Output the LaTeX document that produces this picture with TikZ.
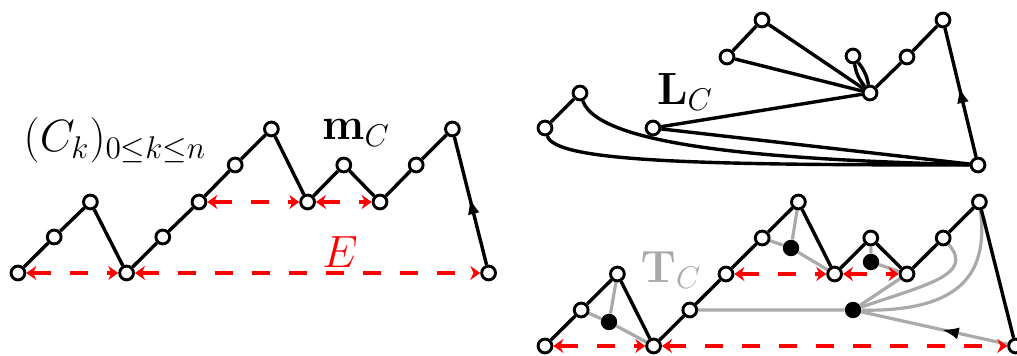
\documentclass[tikz,border=0pt]{standalone}
\usetikzlibrary{arrows.meta,decorations.markings}
\pgfdeclarelayer{bg}
\pgfsetlayers{bg,main}
\definecolor{lgray}{RGB}{170,170,170}
\tikzset{
  vtx/.style={circle,draw=black,fill=white,line width=1.45pt,minimum size=6.9pt,inner sep=0pt},
  fdot/.style={circle,fill=black,minimum size=8.2pt,inner sep=0pt},
  blk/.style={black,line width=1.7pt},
  gry/.style={lgray,line width=1.6pt},
  redarr/.style={red,line width=1.7pt,dash pattern=on 9pt off 9.5pt,
     {Stealth[length=5pt,width=7pt]}-{Stealth[length=5pt,width=7pt]}},
  midarrow/.style={postaction={decorate},decoration={markings,
     mark=at position #1 with {\arrow[black]{Latex[length=8.5pt,width=6pt]}}}},
  lbl/.style={font=\huge,inner sep=0pt,scale=1.09,transform shape}
}
\begin{document}
\begin{tikzpicture}[x=0.5pt,y=-0.5pt]
\useasboundingbox (0,0) rectangle (1017,356);
% left path
\foreach \i/\x/\y in {0/18/273,1/54.2/237,2/90.4/202,3/126.6/273,4/162.8/237,5/199/202,6/235.2/165,7/271.4/129,8/307.6/202,9/343.8/165,10/380/202,11/416.2/165,12/452.4/129,13/488.6/273}
  \node[vtx] (a\i) at (\x,\y) {};
% bottom-right path
\foreach \i/\x/\y in {0/545/346,1/581.2/310,2/617.4/274,3/653.6/346,4/689.8/310,5/726/274,6/762.2/238,7/798.4/202,8/834.6/274,9/870.8/238,10/907/274,11/943.2/238,12/979.4/202,13/1015.6/346}
  \node[vtx] (b\i) at (\x,\y) {};
% top-right map L_C
\node[vtx] (r) at (978,165) {};
\node[vtx] (l1) at (545,128) {};
\node[vtx] (l2) at (580,93) {};
\node[vtx] (l4) at (653,128) {};
\node[vtx] (l5) at (870,93) {};
\node[vtx] (l6) at (727,57) {};
\node[vtx] (l7) at (762,20) {};
\node[vtx] (l9) at (853,56) {};
\node[vtx] (l11) at (907,57) {};
\node[vtx] (l12) at (943,20) {};
% face dots
\node[fdot] (d1) at (609,322) {};
\node[fdot] (d2) at (791,248) {};
\node[fdot] (d3) at (871,262) {};
\node[fdot] (d4) at (853,310) {};
% labels
\node[lbl] (lC) at (115,140) {$(C_k)_{0\le k\le n}$};
\node[lbl] (lm) at (356,133) {$\mathbf{m}_C$};
\node[lbl,text=red] (lE) at (340,252) {$E$};
\node[lbl] (lL) at (685,92) {$\mathbf{L}_C$};
\node[lbl,text=lgray] (lT) at (671,270) {$\mathbf{T}_C$};
\begin{pgfonlayer}{bg}
% gray tree edges
\draw[gry] (d1) -- (b1) (d1) -- (b2) (d1) -- (b3);
\draw[gry] (d2) -- (b6) (d2) -- (b7) (d2) -- (b8);
\draw[gry] (d3) -- (b9) (d3) -- (b10);
\draw[gry] (d4) -- (b4) (d4) -- (b10);
\draw[gry] (d4) .. controls (925,285) and (975,275) .. (b11);
\draw[gry] (d4) .. controls (965,312) and (988,270) .. (b12);
\draw[gry,midarrow=0.45] (b13) -- (d4);
% red arrows
\draw[redarr] (a0) -- (a3);
\draw[redarr] (a3) -- (a13);
\draw[redarr] (a5) -- (a8);
\draw[redarr] (a8) -- (a10);
\draw[redarr] (b0) -- (b3);
\draw[redarr] (b3) -- (b13);
\draw[redarr] (b5) -- (b8);
\draw[redarr] (b8) -- (b10);
% black paths
\draw[blk,line join=round] (a0) -- (a1) -- (a2) -- (a3) -- (a4) -- (a5) -- (a6) -- (a7) -- (a8) -- (a9) -- (a10) -- (a11) -- (a12);
\draw[blk,midarrow=0.53] (a13) -- (a12);
\draw[blk,line join=round] (b0) -- (b1) -- (b2) -- (b3) -- (b4) -- (b5) -- (b6) -- (b7) -- (b8) -- (b9) -- (b10) -- (b11) -- (b12) -- (b13);
% L_C edges
\draw[blk] (l1) -- (l2);
\draw[blk] (l2) .. controls (600,150) and (800,160) .. (r);
\draw[blk] (l1) .. controls (555,162) and (700,165) .. (r);
\draw[blk] (r) -- (l4);
\draw[blk] (l4) -- (l5);
\draw[blk] (l5) -- (l6);
\draw[blk] (l6) -- (l7);
\draw[blk] (l7) -- (l5);
\draw[blk] (l5) to[bend left=14] (l9);
\draw[blk] (l5) to[bend right=14] (l9);
\draw[blk] (l5) -- (l11);
\draw[blk] (l11) -- (l12);
\draw[blk,midarrow=0.55] (r) -- (l12);
\end{pgfonlayer}
\end{tikzpicture}
\end{document}
